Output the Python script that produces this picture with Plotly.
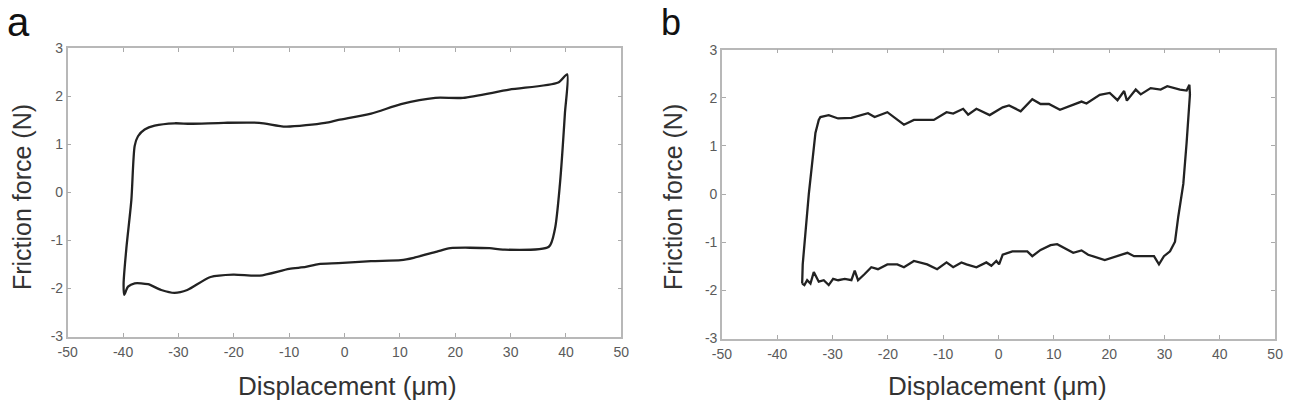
import plotly.graph_objects as go

# Panel a: closed friction loop (lower branch -> right edge -> upper branch -> left edge)
a_disp = [-39.8, -39.1, -37.9, -35.5, -33.1, -30.7, -28.4, -24.2, -20.1, -15.3, -10.0, -7.0, -4.7,
          -1.1, 4.8, 10.2, 12.5, 16.7, 19.1, 26.2, 28.6, 36.9,
          38.0, 38.9, 39.8, 40.2,
          38.6, 29.75, 21.4, 16.4, 10.2, 4.8, -1.1, -3.5, -10.6, -15.4, -21.8, -27.8, -30.7,
          -34.3, -36.1, -37.3, -37.9, -38.5, -39.4, -39.9, -39.8]
a_force = [-2.13, -1.96, -1.89, -1.91, -2.03, -2.09, -2.03, -1.76, -1.71, -1.73, -1.59, -1.55, -1.49,
           -1.47, -1.43, -1.41, -1.36, -1.23, -1.16, -1.16, -1.19, -1.13,
           -0.76, 0.17, 1.64, 2.46,
           2.29, 2.14, 1.97, 1.97, 1.84, 1.64, 1.51, 1.45, 1.37, 1.45, 1.45, 1.43, 1.44,
           1.39, 1.31, 1.17, 0.97, -0.16, -1.16, -1.89, -2.13]

# Panel b: closed friction loop
b_disp = [-35.5, -35.1, -34.6, -34.0, -33.4, -32.5, -31.6, -30.7, -29.9, -29.0, -27.8, -26.6, -26.0,
          -25.4, -24.2, -23.0, -21.8, -20.1, -18.3, -17.1, -15.3, -12.9, -11.1, -9.4, -8.2, -6.7,
          -5.8, -4.0, -2.2, -1.3, -0.4, 0.1, 0.75, 2.5, 5.2, 6.1, 7.6, 9.4, 10.6, 12.0, 13.5,
          15.0, 16.2, 19.2, 21.5, 23.3, 24.5, 28.1, 29.0, 29.9, 31.0, 31.9,
          32.5, 33.4, 34.0, 34.6, 34.5,
          34.0, 32.8, 31.6, 30.5, 29.3, 27.5, 25.7, 24.8, 23.2, 22.7, 21.5, 20.1, 18.3, 15.9,
          15.0, 13.2, 11.1, 9.1, 7.6, 6.1, 4.0, 1.9, 0.75, -1.6, -4.0, -5.5, -6.4, -8.2,
          -9.4, -11.7, -15.3, -17.1, -18.9, -20.1, -22.4, -23.6, -26.6, -29.0, -30.7, -32.2,
          -32.5, -33.1, -34.3, -35.4, -35.5]
b_force = [-1.86, -1.89, -1.79, -1.86, -1.62, -1.82, -1.79, -1.89, -1.76, -1.79, -1.76, -1.79, -1.59,
           -1.79, -1.66, -1.52, -1.56, -1.46, -1.46, -1.52, -1.39, -1.46, -1.56, -1.42, -1.52, -1.42,
           -1.46, -1.52, -1.42, -1.49, -1.39, -1.46, -1.26, -1.19, -1.19, -1.29, -1.16, -1.06, -1.04, -1.12, -1.22,
           -1.17, -1.26, -1.37, -1.29, -1.22, -1.29, -1.29, -1.46, -1.29, -1.19, -0.99,
           -0.46, 0.21, 1.07, 2.07, 2.27,
           2.15, 2.17, 2.20, 2.24, 2.17, 2.20, 2.07, 2.17, 1.94, 2.14, 1.95, 2.10, 2.06, 1.88,
           1.92, 1.84, 1.75, 1.87, 1.87, 1.97, 1.72, 1.84, 1.80, 1.64, 1.77, 1.65, 1.77, 1.67,
           1.70, 1.54, 1.54, 1.44, 1.60, 1.70, 1.60, 1.68, 1.58, 1.57, 1.64, 1.60,
           1.54, 1.27, 0.0, -1.46, -1.86]

x_ticks = [-50, -40, -30, -20, -10, 0, 10, 20, 30, 40, 50]
x_labels = ["-50", "-40", "-30", "-20", "-10", "0", "10", "20", "30", "40", "50"]
y_ticks = [-3, -2, -1, 0, 1, 2, 3]
y_labels = ["-3", "-2", "-1", "0", "1", "2", "3"]

x_title = "Displacement (μm)"
y_title = "Friction force (N)"

fig = go.Figure()
fig.add_trace(go.Scatter(x=a_disp, y=a_force, mode="lines",
                         line=dict(color="#222222", width=2.3, shape="spline", smoothing=0.7),
                         xaxis="x", yaxis="y", showlegend=False))
fig.add_trace(go.Scatter(x=b_disp, y=b_force, mode="lines",
                         line=dict(color="#222222", width=2.3),
                         xaxis="x2", yaxis="y2", showlegend=False))

W, H = 1293, 408
FONT = "Liberation Sans, Arial"
tickfont = dict(family=FONT, size=14, color="#5a5a5a")
titlefont = dict(family=FONT, size=25, color="#333333")

def xax(domain, anchor):
    return dict(domain=domain, anchor=anchor, range=[-50, 50], tickvals=x_ticks, ticktext=x_labels,
                ticks="inside", ticklen=4, tickcolor="#aaaaaa", showline=True, linecolor="#b8b8b8",
                linewidth=1.5, mirror="ticks", showgrid=False, zeroline=False, tickfont=tickfont,
                ticklabelstandoff=2)

def yax(domain, anchor):
    return dict(domain=domain, anchor=anchor, range=[-3, 3], tickvals=y_ticks, ticktext=y_labels,
                ticks="inside", ticklen=4, tickcolor="#aaaaaa", showline=True, linecolor="#b8b8b8",
                linewidth=1.5, mirror="ticks", showgrid=False, zeroline=False, tickfont=tickfont,
                ticklabelstandoff=0)

ax_a = (58.5, 620, 42, 342)
ax_b = (722, 1283, 43.3, 344)

def ann(text, xpx, ypx, size, angle=0, color="#333333"):
    return dict(text=text, x=xpx / W, y=1 - ypx / H, xref="paper", yref="paper",
                xanchor="center", yanchor="middle", showarrow=False, textangle=angle,
                font=dict(family=FONT, size=size, color=color))

fig.update_layout(
    width=W, height=H, margin=dict(l=0, r=0, t=0, b=0),
    paper_bgcolor="white", plot_bgcolor="white",
    xaxis=xax([ax_a[0] / W, ax_a[1] / W], "y"),
    yaxis=yax([1 - ax_a[3] / H, 1 - ax_a[2] / H], "x"),
    xaxis2=xax([ax_b[0] / W, ax_b[1] / W], "y2"),
    yaxis2=yax([1 - ax_b[3] / H, 1 - ax_b[2] / H], "x2"),
    annotations=[
        ann("a", 9, 15, 40, color="#111111"),
        ann("b", 670, 15, 36, color="#111111"),
        ann(y_title, 12, 197, 25, angle=-90),
        ann(y_title, 673, 197, 25, angle=-90),
        ann(x_title, 342, 393, 26),
        ann(x_title, 1001, 393, 26),
    ],
)

fig.write_html("out.html")
